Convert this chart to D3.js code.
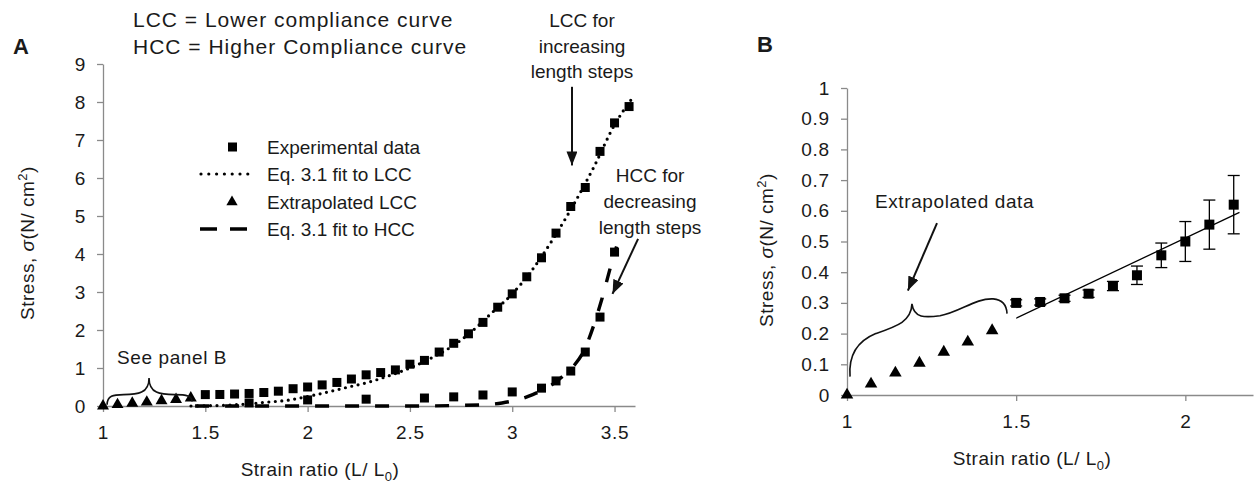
<!DOCTYPE html>
<html>
<head>
<meta charset="utf-8">
<script src="https://cdn.jsdelivr.net/npm/d3@7"></script>
<style>
  body { margin: 0; background: #fff; }
  text { font-family: "Liberation Sans", Arial, sans-serif; fill: #1a1a1a; }
</style>
</head>
<body>
<svg id="chart" width="1257" height="485"></svg>
<script>
// strain ratio steps (L/L0) for the experimental data
const lccX = [1.5, 1.571, 1.643, 1.714, 1.786, 1.857, 1.929, 2.0, 2.071, 2.143,
  2.214, 2.286, 2.357, 2.429, 2.5, 2.571, 2.643, 2.714, 2.786, 2.857,
  2.929, 3.0, 3.071, 3.143, 3.214, 3.286, 3.357, 3.429, 3.5, 3.571];
const lccY = [0.30, 0.303, 0.315, 0.33, 0.355, 0.39, 0.455, 0.50, 0.555, 0.62,
  0.71, 0.82, 0.88, 0.95, 1.10, 1.20, 1.42, 1.65, 1.90, 2.20,
  2.60, 2.95, 3.40, 3.90, 4.55, 5.25, 5.75, 6.70, 7.45, 7.88];
// standard error, only shown in panel B
const lccErr = [0.01, 0.01, 0.01, 0.012, 0.015, 0.03, 0.04, 0.065, 0.08, 0.095];

const hccX = [1.714, 2.0, 2.286, 2.571, 2.714, 2.857, 3.0, 3.143, 3.214, 3.286, 3.357, 3.429, 3.5];
const hccY = [0.08, 0.16, 0.18, 0.21, 0.24, 0.29, 0.37, 0.47, 0.66, 0.92, 1.42, 2.34, 4.05];

const extX = [1.0, 1.071, 1.143, 1.214, 1.286, 1.357, 1.429];
const extY = [0, 0.036, 0.072, 0.104, 0.14, 0.173, 0.21];

// Eq. 3.1 fits
const fitLccX = [1.43, 1.6, 1.7, 1.8, 1.9, 2.0, 2.1, 2.2, 2.3, 2.4, 2.5, 2.6, 2.7,
  2.8, 2.9, 3.0, 3.1, 3.2, 3.3, 3.4, 3.5, 3.58];
const fitLccY = [0, 0.02, 0.05, 0.1, 0.15, 0.25, 0.37, 0.5, 0.63, 0.8, 1.0, 1.25, 1.55,
  1.95, 2.45, 2.95, 3.6, 4.4, 5.3, 6.3, 7.4, 8.05];
const fitHccX = [1.45, 2.0, 2.5, 2.85, 2.95, 3.0, 3.05, 3.1, 3.15, 3.2, 3.25, 3.3,
  3.35, 3.4, 3.44, 3.48, 3.51];
const fitHccY = [0, 0, 0, 0.03, 0.08, 0.13, 0.2, 0.3, 0.42, 0.58, 0.8, 1.05,
  1.45, 2.15, 2.85, 3.65, 4.2];
// linear fit in panel B
const fitBX = [1.5, 2.16];
const fitBY = [0.25, 0.595];

const ticksAX = [1, 1.5, 2, 2.5, 3, 3.5];
const ticksAY = [0, 1, 2, 3, 4, 5, 6, 7, 8, 9];
const ticksBX = [1, 1.5, 2];
const ticksBY = [0, 0.1, 0.2, 0.3, 0.4, 0.5, 0.6, 0.7, 0.8, 0.9, 1];

const svg = d3.select('#chart');
const axisColor = '#8a8a8a';

svg.append('defs').append('marker')
  .attr('id', 'head')
  .attr('markerUnits', 'userSpaceOnUse')
  .attr('viewBox', '0 0 14 11')
  .attr('markerWidth', 14).attr('markerHeight', 11)
  .attr('refX', 14).attr('refY', 5.5)
  .attr('orient', 'auto')
  .append('path').attr('d', 'M0,0 L14,5.5 L0,11 Z').attr('fill', '#111');

const xA = d3.scaleLinear().domain([1, 3.6]).range([103, 635]);
const yA = d3.scaleLinear().domain([0, 9]).range([406, 64]);
const xB = d3.scaleLinear().domain([1, 2.2]).range([847, 1253]);
const yB = d3.scaleLinear().domain([0, 1]).range([395, 88]);

function drawAxes(x, y, xt, yt) {
  const gx = svg.append('g')
    .attr('transform', `translate(0,${y(0)})`)
    .call(d3.axisBottom(x).tickValues(xt).tickSize(6).tickSizeOuter(0).tickPadding(14).tickFormat(d => d));
  const gy = svg.append('g')
    .attr('transform', `translate(${x(1)},0)`)
    .call(d3.axisLeft(y).tickValues(yt).tickSize(6).tickSizeOuter(0).tickPadding(11).tickFormat(d => d));
  [gx, gy].forEach(g => {
    g.selectAll('path, line').attr('stroke', axisColor).attr('stroke-width', 1.3);
    g.selectAll('text').attr('font-size', 19).attr('letter-spacing', 0.8)
      .attr('font-family', '"Liberation Sans", Arial, sans-serif').attr('fill', '#1a1a1a');
  });
}

function squares(x, y, xs, ys, s) {
  svg.append('g').selectAll('rect').data(xs).join('rect')
    .attr('x', (d, i) => x(d) - s / 2).attr('y', (d, i) => y(ys[i]) - s / 2)
    .attr('width', s).attr('height', s).attr('fill', '#000');
}

function triangles(x, y, xs, ys, size) {
  svg.append('g').selectAll('path').data(xs).join('path')
    .attr('d', d3.symbol(d3.symbolTriangle, size))
    .attr('transform', (d, i) => `translate(${x(d)},${y(ys[i])})`)
    .attr('fill', '#000');
}

function curve(x, y, xs, ys, dash, w, cap) {
  const line = d3.line().x(d => x(d[0])).y(d => y(d[1])).curve(d3.curveMonotoneX);
  svg.append('path')
    .attr('d', line(xs.map((d, i) => [d, ys[i]])))
    .attr('fill', 'none').attr('stroke', '#000')
    .attr('stroke-width', w).attr('stroke-dasharray', dash)
    .attr('stroke-linecap', cap);
}

function arrow(x, y, p0, p1) {
  svg.append('line')
    .attr('x1', x(p0[0])).attr('y1', y(p0[1]))
    .attr('x2', x(p1[0])).attr('y2', y(p1[1]))
    .attr('stroke', '#111').attr('stroke-width', 2)
    .attr('marker-end', 'url(#head)');
}

// path from data-space cubic segments: start point then triples of points
function bracePath(x, y, start, segs) {
  const p = d => `${x(d[0])},${y(d[1])}`;
  return `M${p(start)}` + segs.map(s => ` C${p(s[0])} ${p(s[1])} ${p(s[2])}`).join('');
}

function label(x, y, str, size, anchor, extra) {
  const t = svg.append('text').attr('x', x).attr('y', y)
    .attr('font-size', size).attr('text-anchor', anchor || 'start').text(str);
  if (extra) extra(t);
  return t;
}

function xTitle(cx, by) {
  const t = svg.append('text').attr('x', cx).attr('y', by)
    .attr('font-size', 19).attr('letter-spacing', 0.5).attr('text-anchor', 'middle');
  t.append('tspan').text('Strain ratio  (L/ L');
  t.append('tspan').attr('font-size', 13).attr('dy', 5).text('0');
  t.append('tspan').attr('dy', -5).text(')');
}

function yTitle(bx, cy) {
  const t = svg.append('text').attr('transform', `translate(${bx},${cy}) rotate(-90)`)
    .attr('font-size', 19).attr('letter-spacing', 0.5).attr('text-anchor', 'middle');
  t.append('tspan').text('Stress, ');
  t.append('tspan').attr('font-style', 'italic').text('σ');
  t.append('tspan').text('(N/ cm');
  t.append('tspan').attr('font-size', 13).attr('dy', -7).text('2');
  t.append('tspan').attr('dy', 7).text(')');
}

// ---------- Panel A ----------
drawAxes(xA, yA, ticksAX, ticksAY);
curve(xA, yA, fitLccX, fitLccY, '0,6.5', 3.2, 'round');
curve(xA, yA, fitHccX, fitHccY, '14,16', 3.4, 'butt');
squares(xA, yA, lccX, lccY, 9);
squares(xA, yA, hccX, hccY, 9);
triangles(xA, yA, extX, extY, 62);

svg.append('path')
  .attr('d', bracePath(xA, yA, [1.02, 0.03], [
    [[1.02, 0.27], [1.05, 0.3], [1.1, 0.3]],
    [[1.17, 0.3], [1.225, 0.33], [1.225, 0.74]],
    [[1.225, 0.33], [1.28, 0.3], [1.35, 0.3]],
    [[1.41, 0.3], [1.435, 0.27], [1.435, 0.12]]
  ]))
  .attr('fill', 'none').attr('stroke', '#111').attr('stroke-width', 1.6);
label(117, 364, 'See panel B', 19, 'start', t => t.attr('letter-spacing', 0.6));

arrow(xA, yA, [3.292, 8.4], [3.292, 6.33]);
arrow(xA, yA, [3.615, 4.4], [3.49, 2.95]);

[['LCC for', 27], ['increasing', 53], ['length  steps', 78]].forEach(r =>
  label(582, r[1], r[0], 19, 'middle'));
[['HCC for', 182], ['decreasing', 208], ['length  steps', 234]].forEach(r =>
  label(650, r[1], r[0], 19, 'middle'));

label(133, 27, 'LCC = Lower compliance curve', 21, 'start', t => t.attr('letter-spacing', 1));
label(133, 54, 'HCC = Higher Compliance curve', 21, 'start', t => t.attr('letter-spacing', 1));
label(13, 54, 'A', 22, 'start', t => t.attr('font-weight', 'bold'));

// legend
const legY = [147, 174, 202, 229];
const legText = ['Experimental data', 'Eq. 3.1 fit to LCC', 'Extrapolated LCC', 'Eq. 3.1 fit to HCC'];
svg.append('rect').attr('x', 228).attr('y', legY[0] - 4.5).attr('width', 9).attr('height', 9).attr('fill', '#000');
svg.append('line').attr('x1', 201).attr('x2', 255).attr('y1', legY[1]).attr('y2', legY[1])
  .attr('stroke', '#000').attr('stroke-width', 3.2).attr('stroke-dasharray', '0,7.8').attr('stroke-linecap', 'round');
svg.append('path').attr('d', d3.symbol(d3.symbolTriangle, 55))
  .attr('transform', `translate(232,${legY[2]})`).attr('fill', '#000');
svg.append('line').attr('x1', 200).attr('x2', 247).attr('y1', legY[3]).attr('y2', legY[3])
  .attr('stroke', '#000').attr('stroke-width', 3.4).attr('stroke-dasharray', '17,13');
legText.forEach((s, i) => label(267, legY[i] + 7, s, 19));

xTitle(320, 476);
yTitle(34, 243);

// ---------- Panel B ----------
drawAxes(xB, yB, ticksBX, ticksBY);
const nB = lccErr.length;
const errG = svg.append('g').attr('stroke', '#000').attr('stroke-width', 1.3);
lccX.slice(0, nB).forEach((d, i) => {
  const cx = xB(d), lo = yB(lccY[i] - lccErr[i]), hi = yB(lccY[i] + lccErr[i]);
  errG.append('line').attr('x1', cx).attr('x2', cx).attr('y1', lo).attr('y2', hi);
  errG.append('line').attr('x1', cx - 6).attr('x2', cx + 6).attr('y1', lo).attr('y2', lo);
  errG.append('line').attr('x1', cx - 6).attr('x2', cx + 6).attr('y1', hi).attr('y2', hi);
});
svg.append('line')
  .attr('x1', xB(fitBX[0])).attr('y1', yB(fitBY[0]))
  .attr('x2', xB(fitBX[1])).attr('y2', yB(fitBY[1]))
  .attr('stroke', '#000').attr('stroke-width', 1.3);
squares(xB, yB, lccX.slice(0, nB), lccY.slice(0, nB), 10);
triangles(xB, yB, extX, extY, 68);

svg.append('path')
  .attr('d', bracePath(xB, yB, [1.009, 0.06], [
    [[1.004, 0.13], [1.03, 0.175], [1.085, 0.2]],
    [[1.15, 0.225], [1.19, 0.24], [1.192, 0.297]],
    [[1.198, 0.25], [1.23, 0.252], [1.275, 0.258]],
    [[1.334, 0.27], [1.38, 0.316], [1.432, 0.313]],
    [[1.46, 0.31], [1.472, 0.29], [1.473, 0.265]]
  ]))
  .attr('fill', 'none').attr('stroke', '#111').attr('stroke-width', 1.6);

arrow(xB, yB, [1.266, 0.56], [1.18, 0.34]);
label(875, 208, 'Extrapolated  data', 19, 'start', t => t.attr('letter-spacing', 0.6));

label(757, 52, 'B', 22, 'start', t => t.attr('font-weight', 'bold'));
xTitle(1032, 465);
yTitle(773, 250);
</script>
</body>
</html>
